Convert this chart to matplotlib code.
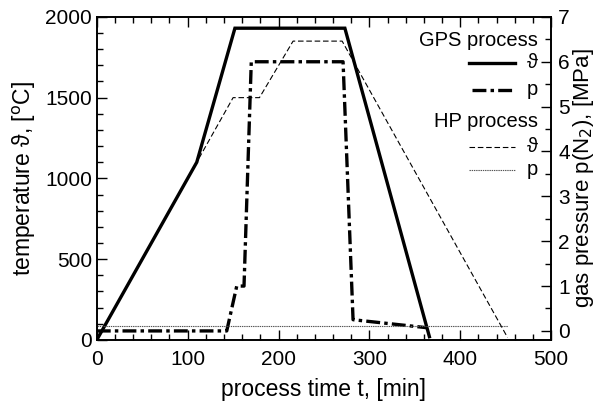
import matplotlib
matplotlib.use("Agg")
import matplotlib.pyplot as plt
from matplotlib.ticker import MultipleLocator

plt.rcParams['font.family'] = ['Liberation Sans', 'DejaVu Sans']
plt.rcParams['lines.scale_dashes'] = False

# GPS process
gps_t_time = [0, 110, 152, 273, 366]
gps_temp = [0, 1100, 1930, 1930, 20]
gps_p_time = [0, 143, 154, 162, 170, 271, 282, 364]
gps_p = [0, 0, 1.0, 1.0, 6.0, 6.0, 0.25, 0.07]

# HP process
hp_t_time = [0, 110, 150, 179, 216, 270, 452]
hp_temp = [0, 1100, 1500, 1500, 1850, 1850, 15]
hp_p_time = [0, 452]
hp_p = [0.1, 0.1]

fig = plt.figure(figsize=(6.05, 4.12), dpi=100)
ax = fig.add_axes([0.160, 0.175, 0.751, 0.784])
ax2 = ax.twinx()

ax.plot(gps_t_time, gps_temp, color='black', lw=2.4, solid_joinstyle='miter')
ax.plot(hp_t_time, hp_temp, color='black', lw=0.8, dashes=(4, 2))
ax2.plot(gps_p_time, gps_p, color='black', lw=2.4, dashes=(10, 3, 2.5, 3))
ax2.plot(hp_p_time, hp_p, color='#555555', lw=0.8, dashes=(1, 0.6))

ax.set_xlim(0, 500)
ax.set_ylim(0, 2000)
ax2.set_ylim(-0.2, 7)

ax.xaxis.set_major_locator(MultipleLocator(100))
ax.xaxis.set_minor_locator(MultipleLocator(20))
ax.yaxis.set_major_locator(MultipleLocator(500))
ax.yaxis.set_minor_locator(MultipleLocator(100))
ax2.yaxis.set_major_locator(MultipleLocator(1))
ax2.yaxis.set_minor_locator(MultipleLocator(0.5))

ax.tick_params(which='both', direction='in', top=True, right=False, labelsize=15, width=1)
ax.tick_params(which='major', length=7)
ax.tick_params(which='minor', length=4)
ax.tick_params(axis='x', which='major', pad=7)
ax2.tick_params(which='both', direction='in', labelsize=15, width=1)
ax2.tick_params(which='major', length=7, pad=5)
ax2.tick_params(which='minor', length=4)

for a in (ax, ax2):
    for s in a.spines.values():
        s.set_linewidth(1.2)

ax.set_xlabel("process time t, [min]", fontsize=16.5, labelpad=7)
ax.set_ylabel("temperature \u03d1, [$^{\\mathrm{o}}$C]", fontsize=16.5, labelpad=5)
ax2.set_ylabel("gas pressure p(N$_2$), [MPa]", fontsize=16, labelpad=1)

# legend drawn by hand
tr = ax.transAxes
fs = 14.5
ax.text(0.971, 0.926, "GPS process", transform=tr, ha='right', va='center', fontsize=fs)
ax.plot([0.819, 0.921], [0.858, 0.858], transform=tr, color='black', lw=2.4)
ax.text(0.971, 0.858, "\u03d1", transform=tr, ha='right', va='center', fontsize=fs)
ax.plot([0.826, 0.921], [0.774, 0.774], transform=tr, color='black', lw=2.4, dashes=(10, 3, 2.5, 3))
ax.text(0.971, 0.774, "p", transform=tr, ha='right', va='center', fontsize=fs)
ax.text(0.971, 0.675, "HP process", transform=tr, ha='right', va='center', fontsize=fs)
ax.plot([0.819, 0.921], [0.598, 0.598], transform=tr, color='black', lw=0.8, dashes=(4, 2))
ax.text(0.971, 0.598, "\u03d1", transform=tr, ha='right', va='center', fontsize=fs)
ax.plot([0.819, 0.921], [0.526, 0.526], transform=tr, color='#555555', lw=0.8, dashes=(1, 0.6))
ax.text(0.971, 0.526, "p", transform=tr, ha='right', va='center', fontsize=fs)

fig.savefig("out.png", dpi=100)
